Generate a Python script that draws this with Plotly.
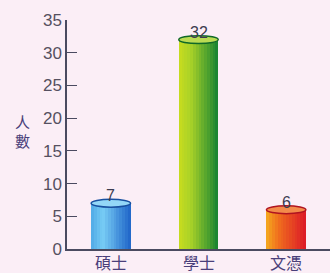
import plotly.graph_objects as go

categories = ["碩士", "學士", "文憑"]
values = [7, 32, 6]
y_ticks = [0, 5, 10, 15, 20, 25, 30, 35]
y_title_chars = ["人", "數"]

# gradient stops (left, highlight, right) for each bar
stops = [
    [(80, 170, 230), (120, 205, 245), (30, 100, 200)],
    [(200, 220, 30), (170, 210, 40), (20, 130, 50)],
    [(245, 170, 30), (240, 110, 30), (220, 25, 40)],
]

def lerp(a, b, t):
    return tuple(int(round(a[k] + (b[k] - a[k]) * t)) for k in range(3))

def grad(st, t):
    if t < 0.3:
        return lerp(st[0], st[1], t / 0.3)
    return lerp(st[1], st[2], (t - 0.3) / 0.7)

BG = "#fbeef6"
N = 14
bw = 0.45
xs = list(range(len(categories)))
fig = go.Figure()
for i in range(N):
    t = (i + 0.5) / N
    cols = ["rgb(%d,%d,%d)" % grad(st, t) for st in stops]
    fig.add_trace(go.Bar(
        x=xs, y=values, width=[bw / N + 0.002] * 3,
        offset=-bw / 2 + i * bw / N,
        marker=dict(color=cols, line=dict(width=0)),
        showlegend=False, hoverinfo="skip"))

tops = ["rgb(%d,%d,%d)" % lerp(st[1], (255, 255, 255), 0.2) for st in stops]
rims = ["rgb(%d,%d,%d)" % lerp(st[2], (0, 0, 0), 0.2) for st in stops]
for x, v, c, r in zip(xs, values, tops, rims):
    fig.add_shape(type="circle", xref="x", yref="y",
                  x0=x - bw / 2, x1=x + bw / 2, y0=v - 0.6, y1=v + 0.6,
                  fillcolor=c, line=dict(color=r, width=1.5))
    fig.add_annotation(x=x, y=v, text=str(v), showarrow=False, yanchor="bottom",
                       yshift=-3, font=dict(size=16, color="#3c3c50",
                                            family="Liberation Sans"))

for x, cat in zip(xs, categories):
    fig.add_annotation(x=x, y=0, yref="paper", text=cat, showarrow=False,
                       yanchor="top", yshift=1,
                       font=dict(size=16, color="#4a3f7a", family="Noto Sans CJK TC"))

for yp, ch in zip([0.555, 0.475], y_title_chars):
    fig.add_annotation(xref="paper", yref="paper", x=-0.205, y=yp,
                       text=ch, showarrow=False, yanchor="middle",
                       font=dict(size=15, color="#4a3f7a", family="Noto Sans CJK TC"))

fig.update_layout(
    width=330, height=273,
    margin=dict(l=67, r=0, t=20, b=24),
    paper_bgcolor=BG, plot_bgcolor=BG,
    barmode="overlay", bargap=0,
)
fig.update_xaxes(range=[-0.5, 2.5], tickvals=xs, showticklabels=False,
                 showgrid=False, showline=True, linecolor="#4a4a60", linewidth=1.5,
                 ticks="", zeroline=False)
fig.update_yaxes(range=[0, 35], tickvals=y_ticks, showgrid=False, showline=True,
                 linecolor="#4a4a60", linewidth=1.5, ticks="inside", ticklen=10,
                 tickcolor="#4a4a60", zeroline=False,
                 tickfont=dict(size=17, color="#555060", family="Liberation Sans"))
fig.write_html("out.html", config={"displayModeBar": False}, post_script=(
    "document.body.style.margin='0';"
    "document.body.style.background='" + BG + "';"))
